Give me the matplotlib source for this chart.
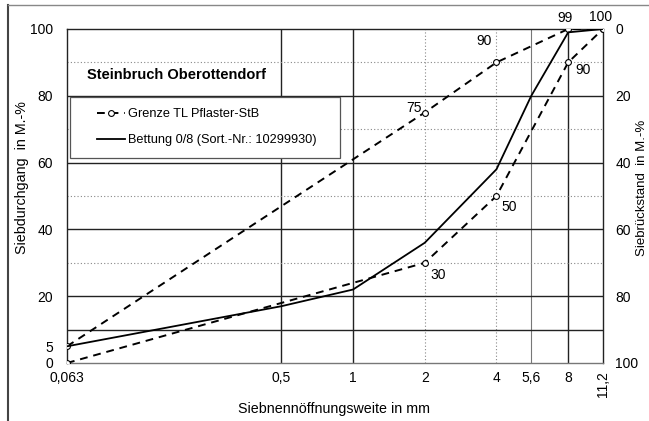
import matplotlib
matplotlib.use('Agg')
import matplotlib.pyplot as plt
from matplotlib.lines import Line2D
from matplotlib.patches import Rectangle

plt.rcParams['font.family'] = ['Liberation Sans', 'DejaVu Sans']
plt.rcParams['font.size'] = 10

# Sieve sizes (mm) and passing (M.-%)
sieve = [0.063, 0.5, 1, 2, 4, 5.6, 8, 11.2]
bettung = [5, 17, 22, 36, 58, 80, 99, 100]

limit_sieve = [0.063, 2, 4, 8, 11.2]
limit_upper = [5, 75, 90, 100, 100]
limit_lower = [0, 30, 50, 90, 100]

xticks = [0.063, 0.5, 1, 2, 4, 5.6, 8, 11.2]
xticklabels = ['0,063', '0,5', '1', '2', '4', '5,6', '8', '11,2']
yticks_left = [0, 5, 20, 40, 60, 80, 100]
yticks_right = [0, 20, 40, 60, 80, 100]

# value labels at the limit points: x, y, text, offset in pixels
point_labels = [
    (2, 75, '75', (-11, 4)),
    (4, 90, '90', (-12, 21)),
    (8, 99, '99', (-3, 14)),
    (11.2, 100, '100', (-2, 12)),
    (2, 30, '30', (13, -12)),
    (4, 50, '50', (13, -11)),
    (8, 90, '90', (15, -8)),
]

fig = plt.figure(figsize=(6.49, 4.21), dpi=100)
ax = fig.add_axes([67/649, 1 - 363/421, (603 - 67)/649, (363 - 29)/421])

ax.set_xscale('log')
ax.set_xlim(0.063, 11.2)
ax.set_ylim(0, 100)

# grid, Excel style: some lines solid, some dotted
for xv in [0.5, 1, 8]:
    ax.axvline(xv, color='#222222', lw=1.0, zorder=1)
ax.axvline(5.6, color='#777777', lw=0.8, zorder=1)
for xv in [2, 4]:
    ax.axvline(xv, color='#888888', lw=0.8, ls=(0, (1, 2)), zorder=1)
for yv in [10, 20, 40, 60, 80]:
    ax.axhline(yv, color='#222222', lw=1.0, zorder=1)
for yv in [30, 50, 70, 90]:
    ax.axhline(yv, color='#888888', lw=0.8, ls=(0, (1, 2)), zorder=1)

# legend frame (white box covering the grid)
ax.add_patch(Rectangle((3/536, (363 - 158)/334), (340 - 70)/536, (158 - 97)/334,
                       transform=ax.transAxes, facecolor='white',
                       edgecolor='#555555', lw=0.9, zorder=2.5))

ax.plot(limit_sieve, limit_upper, color='black', lw=1.4, ls=(0, (4, 3)),
        marker='o', ms=4.2, mfc='white', mec='black', mew=0.8, zorder=3,
        label='Grenze TL Pflaster-StB')
ax.plot(limit_sieve, limit_lower, color='black', lw=1.4, ls=(0, (4, 3)),
        marker='o', ms=4.2, mfc='white', mec='black', mew=0.8, zorder=3)
ax.plot(sieve, bettung, color='black', lw=1.3, zorder=3,
        label='Bettung 0/8 (Sort.-Nr.: 10299930)')

for xv, yv, txt, off in point_labels:
    ax.annotate(txt, (xv, yv), xytext=off, textcoords='offset pixels',
                ha='center', va='center', fontsize=10, zorder=4)

ax.legend(loc='upper left', bbox_to_anchor=(30/536, (363 - 108)/334),
          frameon=False, fontsize=9.2, borderpad=0, handlelength=2.2,
          handletextpad=0.2, labelspacing=1.1, borderaxespad=0)

ax.text(20/536, (363 - 75)/334, 'Steinbruch Oberottendorf', transform=ax.transAxes,
        fontsize=10.5, fontweight='bold', va='center', ha='left')

ax.set_xticks(xticks)
ax.set_xticklabels(xticklabels)
ax.xaxis.set_minor_locator(matplotlib.ticker.NullLocator())
ax.get_xticklabels()[-1].set_rotation(90)
ax.set_yticks(yticks_left)
ax.tick_params(axis='x', length=0, pad=6)
ax.tick_params(axis='y', length=0, pad=10)

ax.spines['left'].set_color('#222222')
ax.spines['right'].set_color('#222222')
ax.spines['top'].set_color('#222222')
ax.spines['bottom'].set_color('#777777')
for s in ax.spines.values():
    s.set_linewidth(1.0)

ax2 = ax.twinx()
ax2.set_ylim(100, 0)
ax2.set_yticks(yticks_right)
ax2.tick_params(axis='y', length=0, pad=9)
for s in ax2.spines.values():
    s.set_visible(False)

fig.text(334/649, 1 - 409/421, 'Siebnennöffnungsweite in mm', ha='center',
         va='center', fontsize=10.3)
fig.text(22/649, 1 - 178/421, 'Siebdurchgang  in M.-%', rotation=90,
         ha='center', va='center', fontsize=10.3)
fig.text(648/649, 1 - 188/421, 'Siebrückstand  in M.-%', rotation=90,
         ha='right', va='center', fontsize=9.5)

# outer frame remnants of the scanned chart
fig.add_artist(Line2D([8/649, 8/649], [0, 1 - 5/421], color='#444444', lw=1.5))
fig.add_artist(Line2D([8/649, 1], [1 - 5/421, 1 - 5/421], color='#888888', lw=1.0))

fig.savefig('out.png', dpi=100)
